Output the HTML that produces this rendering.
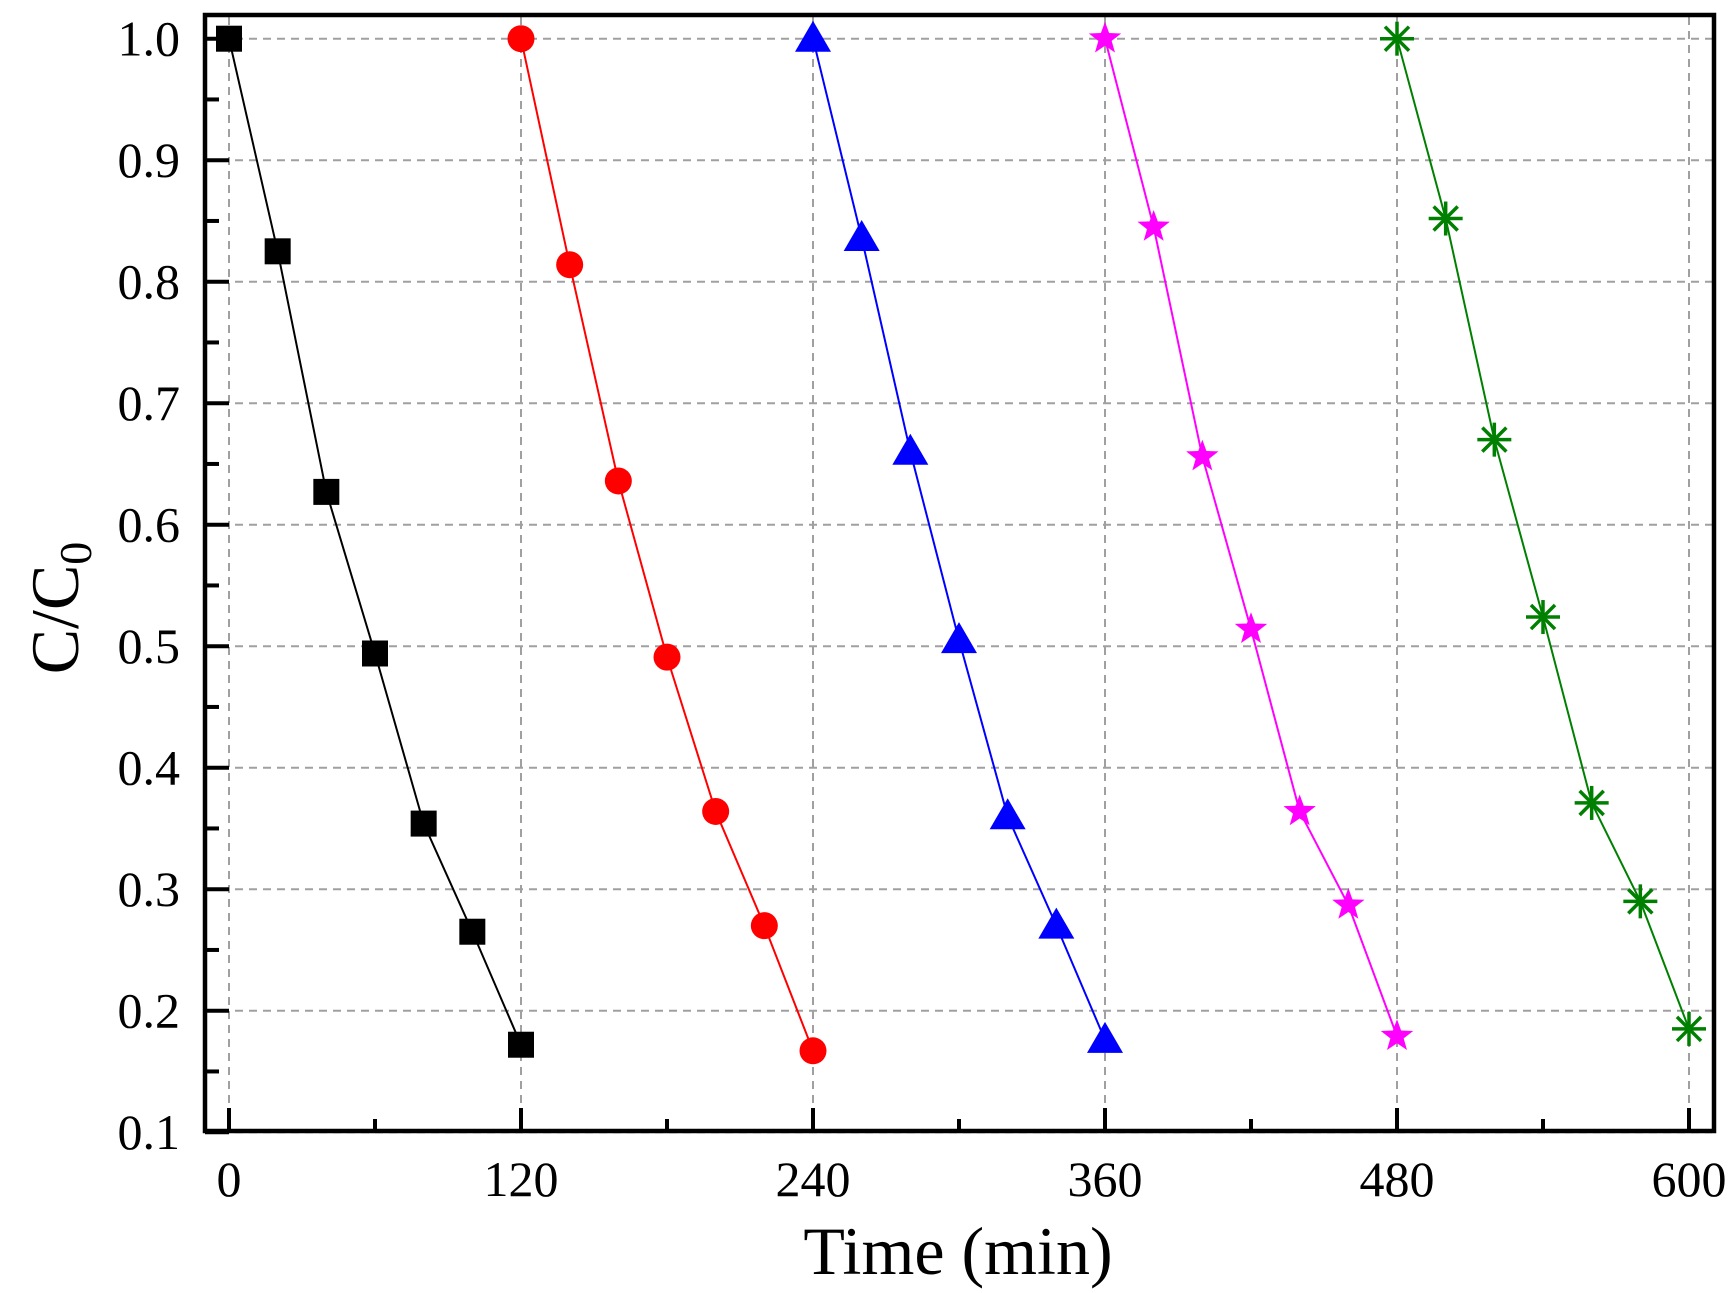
<!DOCTYPE html>
<html><head><style>body{margin:0;background:#fff}svg{display:block}</style></head><body>
<svg width="1732" height="1293" xmlns="http://www.w3.org/2000/svg" font-family="Liberation Serif, serif">
<g id="grid" stroke="#a0a0a0" stroke-width="2" stroke-dasharray="8,6" fill="none"></g>
<g id="ticks" stroke="#000" stroke-width="4"></g>
<rect x="205" y="15" width="1509" height="1116" fill="none" stroke="#000" stroke-width="4.5"/>
<g id="labels" font-size="50" fill="#000"></g>
<g id="series"></g>
<text x="958" y="1274" font-size="68" text-anchor="middle">Time (min)</text>
<text transform="translate(78,608) rotate(-90)" font-size="68" text-anchor="middle">C/C<tspan font-size="46" dy="13">0</tspan></text>
</svg>
<script>
const X=t=>229+t*292/120, Y=v=>38.7+(1-v)*1215;
const NS="http://www.w3.org/2000/svg";
function el(p,n,a,txt){const e=document.createElementNS(NS,n);for(const k in a)e.setAttribute(k,a[k]);if(txt)e.textContent=txt;document.getElementById(p).appendChild(e);return e;}
for(let t=0;t<=600;t+=120){el('grid','line',{x1:X(t),x2:X(t),y1:17,y2:1129});
 el('ticks','line',{x1:X(t),x2:X(t),y1:1131,y2:1108});
 el('labels','text',{x:X(t),y:1196,'text-anchor':'middle'},String(t));}
for(let t=60;t<600;t+=120)el('ticks','line',{x1:X(t),x2:X(t),y1:1131,y2:1119});
for(let i=1;i<=10;i++){const v=i/10;el('grid','line',{x1:207,x2:1712,y1:Y(v),y2:Y(v)});
 el('ticks','line',{x1:205,x2:229,y1:Y(v),y2:Y(v)});
 el('labels','text',{x:180,y:Y(v)+17,'text-anchor':'end'},v.toFixed(1));}
for(let i=1;i<10;i++){const v=i/10+0.05;el('ticks','line',{x1:205,x2:219,y1:Y(v),y2:Y(v)});}
const S=[
 ['#000','sq',[1,0.825,0.627,0.494,0.354,0.265,0.172]],
 ['#f00','ci',[1,0.814,0.636,0.491,0.364,0.27,0.167]],
 ['#00f','tr',[1,0.836,0.66,0.505,0.36,0.27,0.176]],
 ['#f0f','st',[1,0.845,0.656,0.514,0.364,0.287,0.179]],
 ['#008000','as',[1,0.852,0.67,0.524,0.371,0.29,0.185]]];
S.forEach((s,k)=>{const pts=s[2].map((v,i)=>[X(k*120+i*20),Y(v)]);
 el('series','polyline',{points:pts.map(p=>p.join(',')).join(' '),fill:'none',stroke:s[0],'stroke-width':2});
 pts.forEach(([x,y])=>{
  if(s[1]=='sq')el('series','rect',{x:x-13,y:y-13,width:26,height:26,fill:s[0]});
  else if(s[1]=='ci')el('series','circle',{cx:x,cy:y,r:13.5,fill:s[0]});
  else if(s[1]=='tr')el('series','polygon',{points:`${x},${y-18} ${x-18},${y+13} ${x+18},${y+13}`,fill:s[0]});
  else if(s[1]=='st'){let p=[];for(let j=0;j<10;j++){const r=j%2?7:17,a=-Math.PI/2+j*Math.PI/5;p.push((x+r*Math.cos(a))+','+(y+r*Math.sin(a)));}el('series','polygon',{points:p.join(' '),fill:s[0]});}
  else{for(let j=0;j<4;j++){const a=j*Math.PI/4,c=17*Math.cos(a),d=17*Math.sin(a);el('series','line',{x1:x-c,y1:y-d,x2:x+c,y2:y+d,stroke:s[0],'stroke-width':3.5});}}
 });});
</script>
</body></html>
